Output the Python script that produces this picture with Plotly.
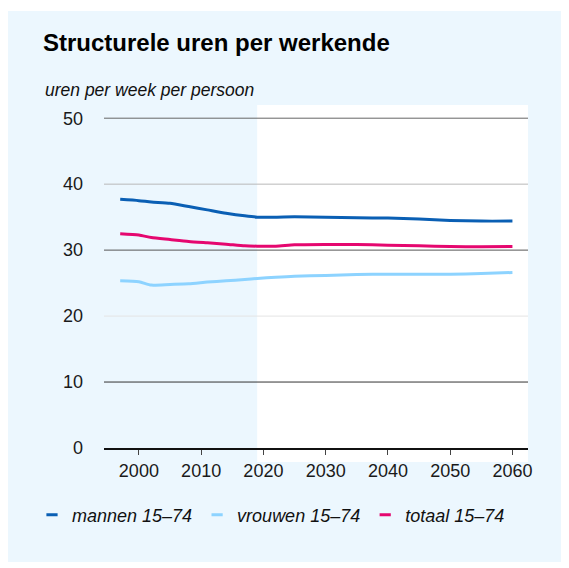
import plotly.graph_objects as go

# Data
years = [1997, 2000, 2002, 2005, 2008, 2011, 2014, 2017, 2019, 2022, 2025,
         2030, 2035, 2040, 2045, 2050, 2055, 2060]
mannen = [37.7, 37.5, 37.3, 37.1, 36.6, 36.1, 35.6, 35.2, 35.0, 35.0, 35.05,
          35.0, 34.9, 34.85, 34.7, 34.5, 34.4, 34.4]
vrouwen = [25.35, 25.2, 24.7, 24.8, 24.9, 25.15, 25.35, 25.55, 25.7, 25.9, 26.05,
           26.15, 26.3, 26.35, 26.35, 26.35, 26.45, 26.6]
totaal = [32.5, 32.3, 31.9, 31.6, 31.3, 31.1, 30.9, 30.65, 30.6, 30.6, 30.8,
          30.85, 30.85, 30.75, 30.65, 30.55, 30.5, 30.55]

series_names = ["mannen 15\u201374", "vrouwen 15\u201374", "totaal 15\u201374"]
series_values = [mannen, vrouwen, totaal]
series_colors = ["#0a5fb4", "#8dd3ff", "#e5076f"]

x_ticks = [2000, 2010, 2020, 2030, 2040, 2050, 2060]
y_ticks = [0, 10, 20, 30, 40, 50]
grid_colors = ["#000000", "#333333", "#e4e4e4", "#555555", "#b8b8b8", "#666666"]
forecast_start = 2019

FONT = "Liberation Sans, Arial, sans-serif"
PANEL = "#ecf7fe"
W, H = 553, 554

fig = go.Figure()

# light blue panel and white forecast area
fig.add_shape(type="rect", xref="paper", yref="paper", x0=-0.2264, x1=1.0778,
              y0=-0.3324, y1=1.274, fillcolor=PANEL, line=dict(width=0), layer="below")
fig.add_shape(type="rect", xref="x", yref="paper", x0=forecast_start, x1=2062.5,
              y0=-0.041, y1=1.0, fillcolor="white", line=dict(width=0), layer="below")

# gridlines
for yv, gc in zip(y_ticks[1:], grid_colors[1:]):
    fig.add_shape(type="line", xref="paper", yref="y", x0=0, x1=1, y0=yv, y1=yv,
                  line=dict(color=gc, width=1), layer="below")

for name, vals, col in zip(series_names, series_values, series_colors):
    fig.add_trace(go.Scatter(x=years, y=vals, mode="lines", name=name,
                             line=dict(color=col, width=3, shape="spline", smoothing=0.6),
                             showlegend=False, hoverinfo="skip"))
    # short dash for the legend
    fig.add_trace(go.Scatter(x=[None], y=[None], mode="markers", name=name,
                             marker=dict(symbol="line-ew", size=8,
                                         line=dict(color=col, width=3))))

fig.update_layout(
    width=W, height=H,
    margin=dict(l=96, r=33, t=97, b=114),
    paper_bgcolor="white",
    plot_bgcolor="rgba(0,0,0,0)",
    font=dict(family=FONT, size=18, color="#1a1a1a"),
    title=dict(text="<b>Structurele uren per werkende</b>", xref="container", yref="container",
               x=35 / W, y=1 - 35 / H, xanchor="left", yanchor="middle",
               font=dict(size=24, color="#000000", family=FONT)),
    xaxis=dict(range=[1994.4, 2062.5], tickvals=x_ticks, showgrid=False, zeroline=False,
               showline=True, linecolor="#111111", linewidth=2,
               ticks="outside", ticklen=5, tickcolor="#444444", tickwidth=1,
               tickfont=dict(size=18, color="#1a1a1a")),
    yaxis=dict(range=[0, 52], tickvals=y_ticks, showgrid=False, zeroline=False,
               showline=False, ticks="", ticklabelstandoff=20,
               tickfont=dict(size=18, color="#1a1a1a")),
    legend=dict(orientation="h", xref="paper", yref="paper",
                x=(24 - 96) / 424, y=(440 - 507) / 343, xanchor="left", yanchor="middle",
                bgcolor="rgba(0,0,0,0)",
                font=dict(size=18, style="italic", color="#111111", family=FONT)),
    annotations=[dict(text="uren per week per persoon", xref="paper", yref="paper",
                      x=(43 - 104) / 424, y=(448 - 90) / 343, xanchor="left",
                      yanchor="middle", showarrow=False,
                      font=dict(size=17.5, style="italic", color="#111111", family=FONT))],
)

fig.write_html("out.html")
